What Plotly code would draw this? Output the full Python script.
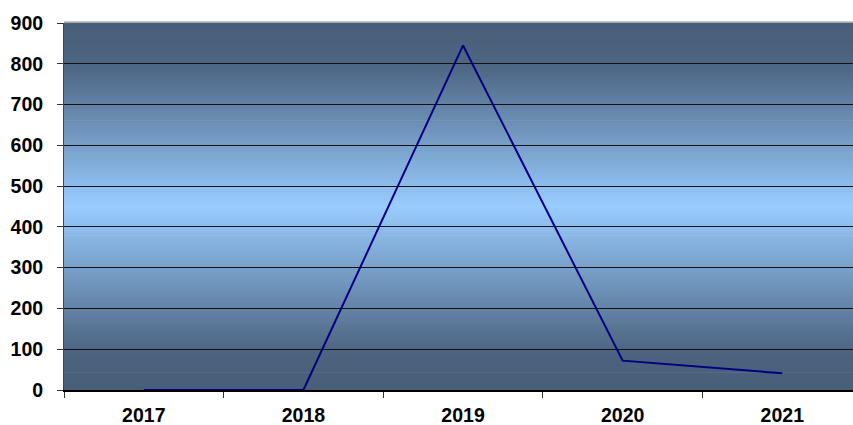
import plotly.graph_objects as go

years = ["2017", "2018", "2019", "2020", "2021"]
values = [0, 0, 845, 72, 41]
y_ticks = [0, 100, 200, 300, 400, 500, 600, 700, 800, 900]

# gradient stops (fraction from bottom, rgb)
stops = [(0.0, (72, 94, 120)), (0.10, (76, 99, 127)), (0.50, (153, 204, 255)),
         (0.88, (78, 102, 132)), (1.0, (72, 94, 120))]

def col(f):
    for (a, ca), (b, cb) in zip(stops[:-1], stops[1:]):
        if a <= f <= b:
            t = (f - a) / (b - a) if b > a else 0
            c = [round(ca[i] + (cb[i] - ca[i]) * t) for i in range(3)]
            return "rgb(%d,%d,%d)" % tuple(c)
    return "rgb(72,94,120)"

shapes = []
N = 150
for i in range(N):
    y0 = i / N
    y1 = (i + 1) / N
    shapes.append(dict(type="rect", xref="x domain", yref="y domain",
                       x0=0, x1=1, y0=y0, y1=y1 + 0.002, layer="below",
                       line=dict(width=0), fillcolor=col((y0 + y1) / 2)))
shapes.append(dict(type="line", xref="x domain", yref="y domain", x0=0, x1=1,
                   y0=1.003, y1=1.003, line=dict(color="#b4b4b4", width=1.5)))

fig = go.Figure()
fig.add_trace(go.Scatter(x=years, y=values, mode="lines",
                         line=dict(color="#000080", width=2)))

tf = dict(size=19.5, family="Liberation Sans, Arial", weight="bold", color="black")
fig.update_layout(
    width=853, height=425,
    margin=dict(l=64, r=0, t=23, b=35),
    paper_bgcolor="white", plot_bgcolor="rgba(0,0,0,0)",
    showlegend=False,
    shapes=shapes,
    font=dict(family="Liberation Sans, Arial", size=19, color="black"),
)
fig.update_xaxes(type="category", range=[-0.5, 4.443], tickson="boundaries",
                 ticks="outside", ticklen=6, tickcolor="#333", showgrid=False,
                 showline=True, linecolor="black", linewidth=1.5,
                 layer="below traces", automargin=False,
                 tickfont=tf, ticklabelstandoff=7)
fig.update_yaxes(range=[0, 900], tickvals=y_ticks, ticks="outside", ticklen=6,
                 tickcolor="#333", showline=True, linecolor="#444", linewidth=1,
                 layer="below traces", automargin=False,
                 showgrid=True, gridcolor="#111", gridwidth=1, zeroline=False,
                 tickfont=tf, ticklabelstandoff=10)

fig.write_html("out.html")
